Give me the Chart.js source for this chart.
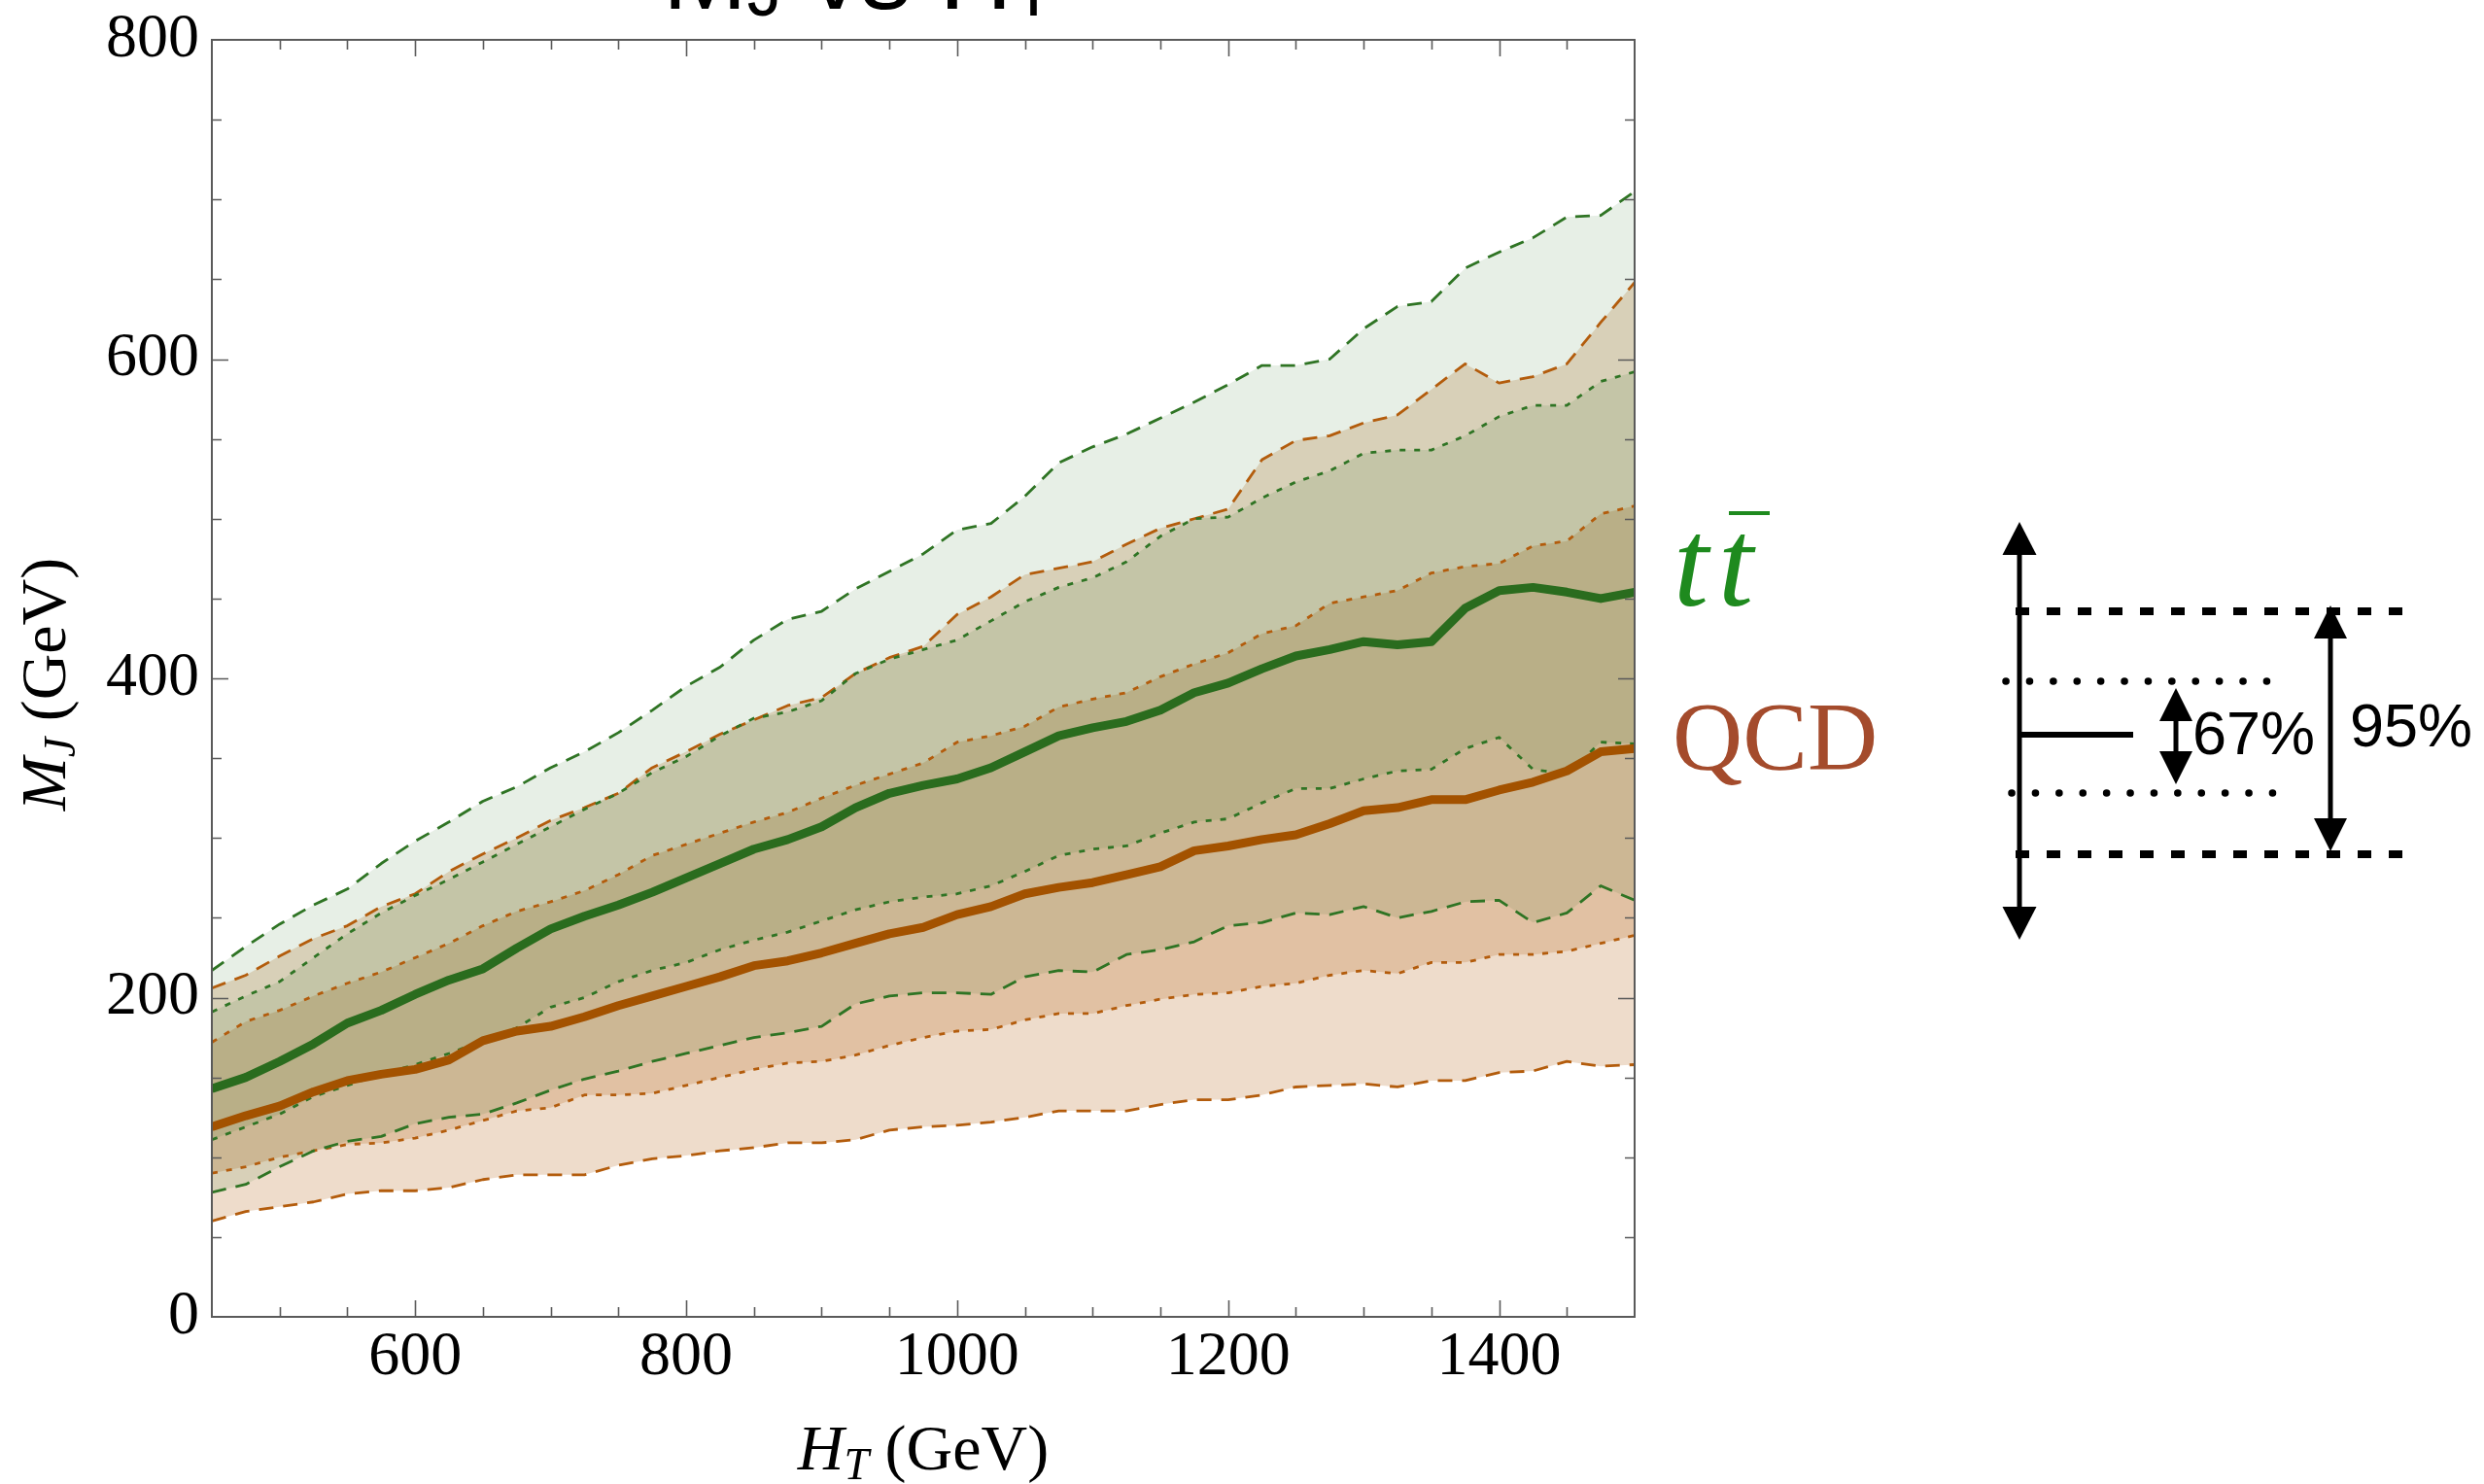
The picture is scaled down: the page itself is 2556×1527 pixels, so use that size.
<!DOCTYPE html>
<html>
<head>
<meta charset="utf-8">
<title>M_J vs H_T</title>
<script src="https://cdn.jsdelivr.net/npm/chart.js@4.4.1/dist/chart.umd.min.js"></script>
<style>
  html, body { margin: 0; padding: 0; background: #fff; }
  #wrap { width: 2556px; height: 1527px; }
</style>
</head>
<body>
<div id="wrap"><canvas id="mjChart" width="2556" height="1527"></canvas></div>
<script>
// =============================================
// DATA
// =============================================

// H_T sample points (GeV)
const htGeV = [450, 475, 500, 525, 550, 575, 600, 625, 650, 675, 700, 725, 750, 775, 800,
               825, 850, 875, 900, 925, 950, 975, 1000, 1025, 1050, 1075, 1100, 1125, 1150,
               1175, 1200, 1225, 1250, 1275, 1300, 1325, 1350, 1375, 1400, 1425, 1450, 1475, 1500];

// ttbar: 95% / 67% bands and median of M_J (GeV)
const ttbar95Hi = [217, 232, 246, 258, 268, 284, 298, 310, 323, 332, 344, 354, 366, 380, 395,
                   407, 424, 437, 442, 456, 467, 478, 493, 497, 514, 535, 545, 553, 563,
                   573, 584, 596, 596, 600, 619, 633, 636, 657, 667, 676, 689, 690, 705];
const ttbar67Hi = [191, 201, 210, 225, 240, 253, 264, 274, 285, 296, 307, 318, 328, 341, 351,
                   364, 375, 379, 386, 403, 412, 418, 424, 436, 448, 457, 463, 473, 489,
                   500, 501, 513, 523, 530, 541, 543, 543, 552, 564, 571, 571, 586, 592];
const ttbarMed  = [143, 150, 160, 171, 184, 192, 202, 211, 218, 231, 243, 251, 258, 266, 275,
                   284, 293, 299, 307, 319, 328, 333, 337, 344, 354, 364, 369, 373, 380,
                   391, 397, 406, 414, 418, 423, 421, 423, 444, 455, 457, 454, 450, 454];
const ttbar67Lo = [111, 119, 127, 138, 145, 152, 158, 165, 173, 181, 194, 200, 210, 217, 222,
                   230, 236, 241, 248, 255, 260, 263, 265, 270, 279, 289, 293, 295, 303,
                   310, 312, 322, 331, 331, 337, 342, 343, 356, 363, 343, 340, 360, 359];
const ttbar95Lo = [78, 83, 94, 104, 110, 113, 121, 125, 127, 134, 142, 149, 154, 160, 165,
                   170, 175, 178, 182, 196, 201, 203, 203, 202, 213, 217, 216, 227, 230,
                   235, 245, 247, 253, 252, 257, 250, 254, 260, 261, 247, 253, 270, 261];

// QCD: 95% / 67% bands and median of M_J (GeV)
const qcd95Hi = [206, 214, 226, 237, 245, 257, 265, 279, 290, 300, 311, 319, 328, 344, 354,
                 365, 374, 383, 388, 403, 413, 420, 440, 451, 465, 469, 473, 484, 494,
                 500, 506, 537, 549, 552, 560, 565, 581, 597, 585, 589, 597, 623, 648];
const qcd67Hi = [172, 185, 192, 201, 209, 216, 225, 234, 245, 254, 260, 267, 277, 289, 296,
                 303, 310, 316, 325, 333, 340, 347, 360, 364, 370, 382, 387, 391, 401,
                 409, 416, 428, 433, 447, 451, 455, 466, 470, 472, 483, 486, 503, 508];
const qcdMed  = [119, 126, 132, 141, 148, 152, 155, 161, 173, 179, 182, 188, 195, 201, 207,
                 213, 220, 223, 228, 234, 240, 244, 252, 257, 265, 269, 272, 277, 282,
                 292, 295, 299, 302, 309, 317, 319, 324, 324, 330, 335, 342, 354, 356];
const qcd67Lo = [90, 94, 100, 104, 108, 109, 112, 117, 123, 129, 131, 139, 139, 140, 145,
                 150, 155, 159, 160, 164, 170, 175, 179, 180, 186, 190, 190, 195, 199,
                 202, 203, 207, 209, 214, 217, 215, 222, 222, 227, 227, 229, 234, 239];
const qcd95Lo = [60, 66, 69, 72, 77, 79, 79, 81, 86, 89, 89, 89, 95, 99, 101,
                 104, 106, 109, 109, 111, 117, 119, 120, 122, 125, 129, 129, 129, 133,
                 136, 136, 139, 144, 145, 146, 144, 148, 148, 153, 154, 160, 157, 158];

// labelled (major) ticks
const xTickLabels = [600, 800, 1000, 1200, 1400];
const yTickLabels = [0, 200, 400, 600, 800];

// =============================================
// STYLE
// =============================================

const GREEN_LINE  = '#2a6c1e';
const GREEN_DASH  = '#2f7424';
const GREEN_FILL  = 'rgba(40, 110, 30, 0.11)';
const BROWN_LINE  = '#a35200';
const BROWN_DASH  = '#b35c0c';
const BROWN_FILL  = 'rgba(178, 96, 19, 0.22)';
const DASH_95 = [15, 10];
const DASH_67 = [6, 9];
const SERIF = '"Liberation Serif", "Times New Roman", serif';
const SANS  = '"Liberation Sans", Arial, sans-serif';

function toPoints(values) {
    return htGeV.map((x, i) => ({ x: x, y: values[i] }));
}

function bandEdge(values, color, dash, fillTarget, fillColor) {
    return {
        data: toPoints(values),
        borderColor: color,
        borderWidth: 2.8,
        borderDash: dash,
        backgroundColor: fillColor || 'transparent',
        fill: fillTarget === undefined ? false : fillTarget,
        order: 2
    };
}

const datasets = [
    bandEdge(ttbar95Hi, GREEN_DASH, DASH_95, 1, GREEN_FILL),   // 0
    bandEdge(ttbar95Lo, GREEN_DASH, DASH_95),                  // 1
    bandEdge(ttbar67Hi, GREEN_DASH, DASH_67, 3, GREEN_FILL),   // 2
    bandEdge(ttbar67Lo, GREEN_DASH, DASH_67),                  // 3
    bandEdge(qcd95Hi, BROWN_DASH, DASH_95, 5, BROWN_FILL),     // 4
    bandEdge(qcd95Lo, BROWN_DASH, DASH_95),                    // 5
    bandEdge(qcd67Hi, BROWN_DASH, DASH_67, 7, BROWN_FILL),     // 6
    bandEdge(qcd67Lo, BROWN_DASH, DASH_67),                    // 7
    { data: toPoints(qcdMed), borderColor: BROWN_LINE, borderWidth: 9, fill: false, order: 1 },
    { data: toPoints(ttbarMed), borderColor: GREEN_LINE, borderWidth: 9, fill: false, order: 0 }
];

// =============================================
// DECORATION: frame, inward ticks, labels, key
// =============================================

// draw a row of text runs (font, dy) starting at x; returns total width
function drawRuns(ctx, runs, x, y, measureOnly) {
    let cx = x;
    runs.forEach(r => {
        ctx.font = r.font;
        if (!measureOnly) ctx.fillText(r.text, cx, y + (r.dy || 0));
        cx += ctx.measureText(r.text).width;
    });
    return cx - x;
}

function arrowHead(ctx, x, tipY, dir, w, h) {
    // dir = -1 points up, +1 points down
    ctx.beginPath();
    ctx.moveTo(x, tipY);
    ctx.lineTo(x - w / 2, tipY - dir * h);
    ctx.lineTo(x + w / 2, tipY - dir * h);
    ctx.closePath();
    ctx.fill();
}

function doubleArrow(ctx, x, y1, y2, w, h, lw) {
    ctx.lineWidth = lw;
    ctx.setLineDash([]);
    ctx.beginPath();
    ctx.moveTo(x, y1 + h * 0.8);
    ctx.lineTo(x, y2 - h * 0.8);
    ctx.stroke();
    arrowHead(ctx, x, y1, -1, w, h);
    arrowHead(ctx, x, y2, 1, w, h);
}

function hLine(ctx, x1, x2, y, lw, dash, cap) {
    ctx.lineWidth = lw;
    ctx.lineCap = cap || 'butt';
    ctx.setLineDash(dash || []);
    ctx.beginPath();
    ctx.moveTo(x1, y);
    ctx.lineTo(x2, y);
    ctx.stroke();
    ctx.setLineDash([]);
    ctx.lineCap = 'butt';
}

const decorPlugin = {
    id: 'decor',
    afterDraw(chart) {
        const { ctx, chartArea: a, scales } = chart;
        const xs = scales.x, ys = scales.y;
        ctx.save();

        // frame
        ctx.strokeStyle = '#5a5a5a';
        ctx.lineWidth = 2;
        ctx.strokeRect(a.left, a.top, a.right - a.left, a.bottom - a.top);

        // inward ticks on all four sides
        ctx.lineWidth = 1.6;
        ctx.beginPath();
        xs.ticks.forEach(t => {
            if (t.value <= xs.min || t.value >= xs.max) return;
            const px = Math.round(xs.getPixelForValue(t.value)) + 0.5;
            const len = xTickLabels.includes(t.value) ? 17 : 10;
            ctx.moveTo(px, a.bottom); ctx.lineTo(px, a.bottom - len);
            ctx.moveTo(px, a.top);    ctx.lineTo(px, a.top + len);
        });
        ys.ticks.forEach(t => {
            if (t.value <= ys.min || t.value >= ys.max) return;
            const py = Math.round(ys.getPixelForValue(t.value)) + 0.5;
            const len = yTickLabels.includes(t.value) ? 17 : 10;
            ctx.moveTo(a.left, py);  ctx.lineTo(a.left + len, py);
            ctx.moveTo(a.right, py); ctx.lineTo(a.right - len, py);
        });
        ctx.stroke();

        ctx.fillStyle = '#000';
        ctx.textBaseline = 'alphabetic';
        ctx.textAlign = 'left';

        // plot title (cut off at the top edge, as in the original)
        const titleRuns = [
            { text: 'M', font: '104px ' + SANS },
            { text: 'J', font: '72px ' + SANS, dy: 7 },
            { text: ' vs H', font: '104px ' + SANS },
            { text: 'T', font: '72px ' + SANS, dy: 7 }
        ];
        drawRuns(ctx, titleRuns, 682, 9);

        // x axis title
        const xRuns = [
            { text: 'H', font: 'italic 66px ' + SERIF },
            { text: 'T', font: 'italic 46px ' + SERIF, dy: 10 },
            { text: ' (GeV)', font: '66px ' + SERIF }
        ];
        const xw = drawRuns(ctx, xRuns, 0, 0, true);
        drawRuns(ctx, xRuns, (a.left + a.right) / 2 - xw / 2, 1512);

        // y axis title (rotated)
        const yRuns = [
            { text: 'M', font: 'italic 66px ' + SERIF },
            { text: 'J', font: 'italic 46px ' + SERIF, dy: 10 },
            { text: ' (GeV)', font: '66px ' + SERIF }
        ];
        const yw = drawRuns(ctx, yRuns, 0, 0, true);
        ctx.save();
        ctx.translate(67, (a.top + a.bottom) / 2 + 6);
        ctx.rotate(-Math.PI / 2);
        drawRuns(ctx, yRuns, -yw / 2, 0);
        ctx.restore();

        // series names
        ctx.fillStyle = '#1e8a1e';
        ctx.font = 'italic 130px ' + SERIF;
        ctx.fillText('t', 1722, 623);
        ctx.fillText('t', 1768, 623);
        ctx.fillRect(1779, 526, 42, 4);
        ctx.fillStyle = '#a44b2c';
        ctx.font = '100px ' + SERIF;
        ctx.fillText('QCD', 1721, 791);

        // key for the band styles
        ctx.fillStyle = '#000';
        ctx.strokeStyle = '#000';
        doubleArrow(ctx, 2078, 537, 967, 35, 34, 5);
        hLine(ctx, 2074, 2476, 629, 8, [14, 18]);
        hLine(ctx, 2074, 2476, 879, 8, [14, 18]);
        hLine(ctx, 2064, 2338, 701, 7.5, [0.1, 24.3], 'round');
        hLine(ctx, 2070, 2344, 816, 7.5, [0.1, 24.3], 'round');
        hLine(ctx, 2078, 2195, 756, 6);
        doubleArrow(ctx, 2239, 708, 807, 34, 34, 5);
        doubleArrow(ctx, 2398, 623, 876, 34, 34, 5);
        ctx.font = '63px ' + SANS;
        ctx.fillText('67%', 2256, 776);
        ctx.fillText('95%', 2418, 768);

        ctx.restore();
    }
};

// =============================================
// CHART
// =============================================

const xTickFont = { family: SERIF, size: 64 };
const yTickFont = { family: SERIF, size: 64, lineHeight: 0.75 };

const chart = new Chart(document.getElementById('mjChart').getContext('2d'), {
    type: 'line',
    data: { datasets: datasets },
    options: {
        responsive: false,
        animation: false,
        devicePixelRatio: 1,
        layout: { padding: { top: 41, right: 874, bottom: 0, left: 0 } },
        elements: {
            point: { radius: 0, hoverRadius: 0 },
            line: { tension: 0, borderCapStyle: 'butt', borderJoinStyle: 'round' }
        },
        plugins: {
            legend: { display: false },
            tooltip: { enabled: false },
            filler: { drawTime: 'beforeDatasetsDraw', propagate: false }
        },
        scales: {
            x: {
                type: 'linear',
                min: 450,
                max: 1500,
                afterFit: (scale) => { scale.height = 172; },
                grid: { display: false, drawTicks: false },
                border: { display: false },
                ticks: {
                    stepSize: 50,
                    autoSkip: false,
                    maxRotation: 0,
                    padding: 4,
                    color: '#000',
                    font: xTickFont,
                    callback: (v) => xTickLabels.includes(v) ? String(v) : ''
                }
            },
            y: {
                type: 'linear',
                min: 0,
                max: 800,
                afterFit: (scale) => { scale.width = 218; },
                grid: { display: false, drawTicks: false },
                border: { display: false },
                ticks: {
                    stepSize: 50,
                    autoSkip: false,
                    padding: 13,
                    color: '#000',
                    font: yTickFont,
                    callback: (v) => yTickLabels.includes(v) ? String(v) : ''
                }
            }
        }
    },
    plugins: [decorPlugin]
});
</script>
</body>
</html>
